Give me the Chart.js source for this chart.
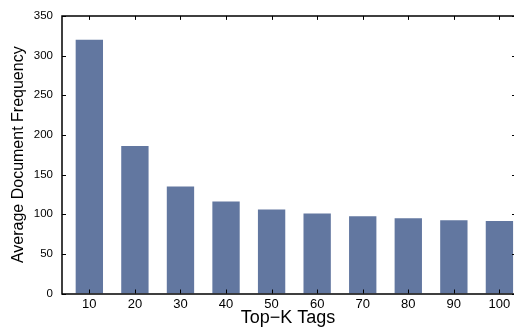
<!DOCTYPE html>
<html>
<head>
<meta charset="utf-8">
<script src="https://cdn.jsdelivr.net/npm/chart.js@4"></script>
<style>
  html, body { margin: 0; padding: 0; background: #fff; overflow: hidden; }
  canvas { display: block; }
</style>
</head>
<body>
<canvas id="chart" width="514" height="330"></canvas>
<script>
// data
const topK = [10, 20, 30, 40, 50, 60, 70, 80, 90, 100];
const avgDocFreq = [320, 186, 135, 116, 106, 101, 97.5, 95, 92.5, 91.5];
const yTicks = [0, 50, 100, 150, 200, 250, 300, 350];

const barColor = 'rgb(98,119,160)';
const font = 'Liberation Sans, Arial, Helvetica, sans-serif';

// matlab style axes box + inward ticks (right edge falls off the picture)
const boxTicks = {
  id: 'boxTicks',
  afterDraw(chart) {
    const { ctx, chartArea: a, scales } = chart;
    ctx.save();
    ctx.strokeStyle = '#000';
    ctx.lineWidth = 1;
    ctx.beginPath();
    topK.forEach(v => {
      const x = Math.round(scales.x.getPixelForValue(v)) + 0.5;
      ctx.moveTo(x, a.top); ctx.lineTo(x, a.top + 4);
      ctx.moveTo(x, a.bottom); ctx.lineTo(x, a.bottom - 4);
    });
    yTicks.forEach(v => {
      const y = Math.round(scales.y.getPixelForValue(v)) + 0.5;
      ctx.moveTo(a.left, y); ctx.lineTo(a.left + 4, y);
      ctx.moveTo(a.right + 2, y); ctx.lineTo(a.right - 2, y);
    });
    ctx.stroke();
    ctx.lineWidth = 1.5;
    const l = Math.round(a.left), t = Math.round(a.top), b = Math.round(a.bottom);
    ctx.beginPath();
    ctx.moveTo(a.right + 5, t); ctx.lineTo(l, t); ctx.lineTo(l, b); ctx.lineTo(a.right + 5, b);
    ctx.stroke();
    ctx.restore();
  }
};

new Chart(document.getElementById('chart'), {
  type: 'bar',
  data: {
    datasets: [{
      data: topK.map((k, i) => ({ x: k, y: avgDocFreq[i] })),
      backgroundColor: barColor,
      borderWidth: 0,
      barPercentage: 0.6,
      categoryPercentage: 1
    }]
  },
  options: {
    responsive: false,
    animation: false,
    devicePixelRatio: 1,
    layout: { padding: { top: 5, right: 0, left: 0, bottom: 0 } },
    plugins: { legend: { display: false }, tooltip: { enabled: false } },
    scales: {
      x: {
        type: 'linear',
        offset: false,
        min: 4,
        max: 103.2,
        grid: { display: false, drawTicks: false },
        border: { display: false },
        afterBuildTicks: s => { s.ticks = topK.map(v => ({ value: v })); },
        afterFit: s => { s.height = 36.5; },
        ticks: { color: '#000', padding: 3, maxRotation: 0, autoSkip: false, font: { family: font, size: 13 } },
        title: { display: true, text: 'Top\u2212K Tags', color: '#000', padding: { top: 0, bottom: 1 }, font: { family: font, size: 18 } }
      },
      y: {
        min: 0,
        max: 350,
        grid: { display: false, drawTicks: false },
        border: { display: false },
        afterBuildTicks: s => { s.ticks = yTicks.map(v => ({ value: v })); },
        afterFit: s => { s.width = 62; },
        ticks: { color: '#000', padding: 9, font: { family: font, size: 11.5 } },
        title: { display: true, text: 'Average Document Frequency', color: '#000', padding: { top: 9, bottom: 0 }, font: { family: font, size: 16 } }
      }
    }
  },
  plugins: [boxTicks]
});
</script>
</body>
</html>
